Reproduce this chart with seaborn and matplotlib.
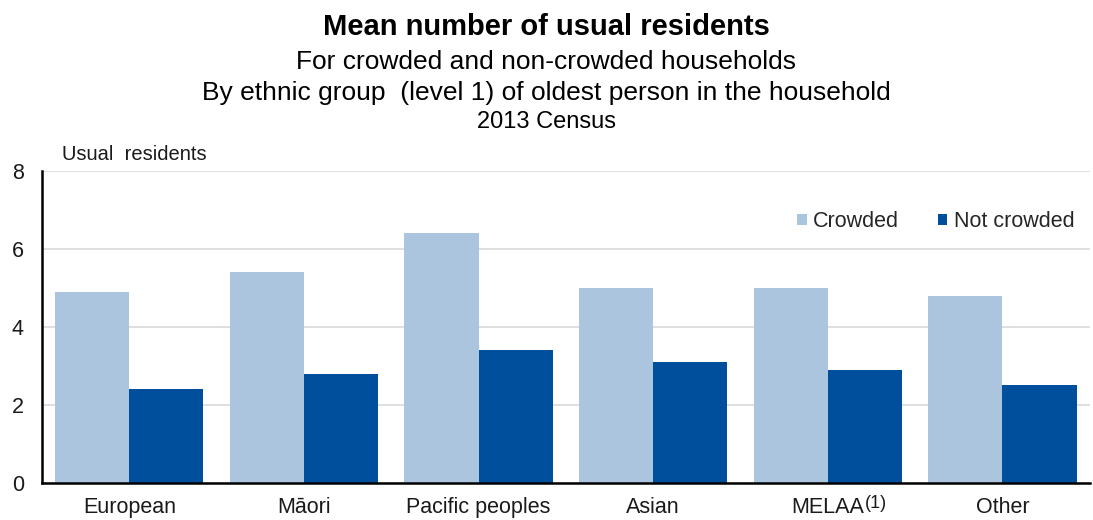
import matplotlib
matplotlib.use("Agg")
import matplotlib.pyplot as plt
import seaborn as sns
import pandas as pd

# Ethnic group categories and mean usual residents per household type
groups = ["European", "Māori", "Pacific peoples", "Asian", "MELAA", "Other"]
footnotes = {"MELAA": "(1)"}
crowded = [4.9, 5.4, 6.4, 5.0, 5.0, 4.8]
not_crowded = [2.4, 2.8, 3.4, 3.1, 2.9, 2.5]
y_ticks = [0, 2, 4, 6, 8]

df = pd.DataFrame({
    "group": groups * 2,
    "value": crowded + not_crowded,
    "type": ["Crowded"] * len(groups) + ["Not crowded"] * len(groups),
})

sns.set_theme(style="white")
plt.rcParams["font.family"] = ["Liberation Sans", "DejaVu Sans"]

fig = plt.figure(figsize=(10.93, 5.2), dpi=100)
ax = fig.add_axes([0.0384, 0.0712, 0.9586, 0.6000])

sns.barplot(data=df, x="group", y="value", hue="type", order=groups,
            hue_order=["Crowded", "Not crowded"],
            palette=["#ABC5DF", "#004F9D"], width=0.85, saturation=1,
            linewidth=0, ax=ax, legend=True)

ax.set_ylim(0, 8)
ax.set_yticks(y_ticks)
ax.set_xlim(-0.5, len(groups) - 0.5)
ax.yaxis.grid(True, color="#D9D9D9", linewidth=1.2)
ax.set_axisbelow(True)
for s in ["top", "right"]:
    ax.spines[s].set_visible(False)
for s in ["left", "bottom"]:
    ax.spines[s].set_color("black")
    ax.spines[s].set_linewidth(1.8)
ax.tick_params(axis="both", length=0, labelsize=15.5, colors="#1a1a1a")
ax.tick_params(axis="y", pad=13)
ax.tick_params(axis="x", pad=10)
ax.set_xlabel("")
ax.set_ylabel("")

leg = ax.legend(loc="center right", bbox_to_anchor=(1.004, 0.837), ncol=2,
                frameon=False, fontsize=15.5, handlelength=0.45,
                handleheight=0.45, handletextpad=0.3, columnspacing=1.8)

# Superscript footnote markers placed just after their tick labels
fig.canvas.draw()
renderer = fig.canvas.get_renderer()
for lbl in ax.get_xticklabels():
    note = footnotes.get(lbl.get_text())
    if note:
        bb = lbl.get_window_extent(renderer)
        x, y = fig.transFigure.inverted().transform((bb.x1 + 1, bb.y1 + 2))
        fig.text(x, y, note, fontsize=13, color="#1a1a1a", ha="left", va="top")

fig.text(0.057, 0.702, "Usual  residents", fontsize=14.5, color="#1a1a1a",
         ha="left", va="center")

fig.text(0.5, 0.948, "Mean number of usual residents", ha="center", va="center",
         fontsize=21, fontweight="bold", color="black")
fig.text(0.5, 0.880, "For crowded and non-crowded households", ha="center",
         va="center", fontsize=19, color="black")
fig.text(0.5, 0.821, "By ethnic group  (level 1) of oldest person in the household",
         ha="center", va="center", fontsize=19, color="black")
fig.text(0.5, 0.766, "2013 Census", ha="center", va="center", fontsize=17,
         color="black")

fig.savefig("out.png", dpi=100)
